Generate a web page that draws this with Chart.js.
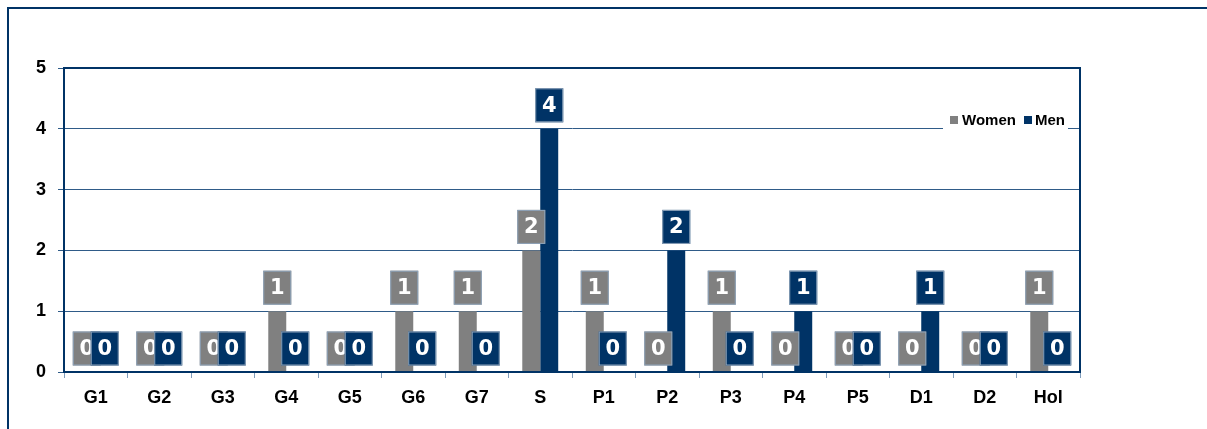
<!DOCTYPE html>
<html>
<head>
<meta charset="utf-8">
<script src="https://cdn.jsdelivr.net/npm/chart.js@4"></script>
<style>
  body { margin: 0; background: #fff; }
  canvas { display: block; }
</style>
</head>
<body>
<canvas id="myChart" width="1207" height="429"></canvas>
<script>
const categories = ["G1", "G2", "G3", "G4", "G5", "G6", "G7", "S", "P1", "P2", "P3", "P4", "P5", "D1", "D2", "Hol"]
const women = [0, 0, 0, 1, 0, 1, 1, 2, 1, 0, 1, 0, 0, 0, 0, 1]
const men = [0, 0, 0, 0, 0, 0, 0, 4, 0, 2, 0, 1, 0, 1, 0, 0]
const yTicks = [0, 1, 2, 3, 4, 5]

const NAVY = "#003366"
const GREY = "#808080"

// outer frame + plot frame
const frames = {
  id: "frames",
  beforeDraw(chart) {
    const ctx = chart.ctx
    ctx.save()
    ctx.strokeStyle = NAVY
    ctx.lineWidth = 2
    ctx.beginPath()
    ctx.moveTo(8, 429)
    ctx.lineTo(8, 8)
    ctx.lineTo(1207, 8)
    ctx.stroke()
    ctx.restore()
  },
  afterDatasetsDraw(chart) {
    const a = chart.chartArea
    const ctx = chart.ctx
    ctx.save()
    ctx.strokeStyle = NAVY
    ctx.lineWidth = 2
    ctx.strokeRect(a.left, a.top, a.right - a.left, a.bottom - a.top)
    ctx.restore()
  }
}

// value boxes above bars
const valueBoxes = {
  id: "valueBoxes",
  afterDatasetsDraw(chart) {
    const ctx = chart.ctx
    ctx.save()
    chart.data.datasets.forEach(function (ds, i) {
      const meta = chart.getDatasetMeta(i)
      meta.data.forEach(function (bar, j) {
        const cy = bar.y - 23.5
        ctx.fillStyle = ds.backgroundColor
        ctx.fillRect(bar.x - 14, cy - 17, 28, 34)
        ctx.strokeStyle = "#8ea4bb"
        ctx.lineWidth = 1
        ctx.strokeRect(bar.x - 13.5, cy - 16.5, 27, 33)
        ctx.fillStyle = "#fff"
        ctx.font = "bold 21px 'DejaVu Sans'"
        ctx.textAlign = "center"
        ctx.textBaseline = "middle"
        ctx.fillText(String(ds.data[j]), bar.x, cy + 1)
      })
    })
    ctx.restore()
  }
}

// legend sitting on the 4 gridline
const legendBox = {
  id: "legendBox",
  afterDraw(chart) {
    const ctx = chart.ctx
    ctx.save()
    ctx.fillStyle = "#fff"
    ctx.fillRect(943, 111, 125, 21)
    ctx.font = "bold 15px 'Liberation Sans'"
    ctx.textBaseline = "middle"
    ctx.textAlign = "left"
    ctx.fillStyle = GREY
    ctx.fillRect(950, 116, 8, 8)
    ctx.fillStyle = "#000"
    ctx.fillText("Women", 962, 120.5)
    ctx.fillStyle = NAVY
    ctx.fillRect(1024, 116, 8, 8)
    ctx.fillStyle = "#000"
    ctx.fillText("Men", 1035, 120.5)
    ctx.restore()
  }
}

const updatee = new Chart("myChart", {
  type: "bar",
  data: {
    labels: categories,
    datasets: [{
        label: "Women",
        backgroundColor: GREY,
        data: women,
        categoryPercentage: 0.566,
        barPercentage: 1.0
      },{
        label: "Men",
        backgroundColor: NAVY,
        data: men,
        categoryPercentage: 0.566,
        barPercentage: 1.0
      }
    ]
  },
  plugins: [frames, valueBoxes, legendBox],
  options: {
    responsive: false,
    devicePixelRatio: 1,
    animation: false,
    layout: { padding: { top: 68, right: 127, left: 0, bottom: 0 } },
    plugins: {
      legend: { display: false },
      tooltip: { enabled: false }
    },
    scales: {
      x: {
        afterFit(scale) { scale.height = 57 },
        grid: { drawOnChartArea: false, tickLength: 6, tickColor: "#7f9cbb" },
        border: { color: NAVY, width: 2 },
        ticks: {
          color: "#000",
          padding: 9,
          font: { family: "Liberation Sans", size: 18, weight: "bold" }
        }
      },
      y: {
        min: 0,
        max: 5,
        afterFit(scale) { scale.width = 64 },
        afterBuildTicks(scale) { scale.ticks = yTicks.map(function (v) { return { value: v } }) },
        grid: { color: "#2f5b88", lineWidth: 1, tickLength: 6, tickColor: "#2f5b88" },
        border: { color: NAVY, width: 2 },
        ticks: {
          color: "#000",
          padding: 12,
          font: { family: "Liberation Sans", size: 18, weight: "bold" }
        }
      }
    }
  }
})
</script>
</body>
</html>
